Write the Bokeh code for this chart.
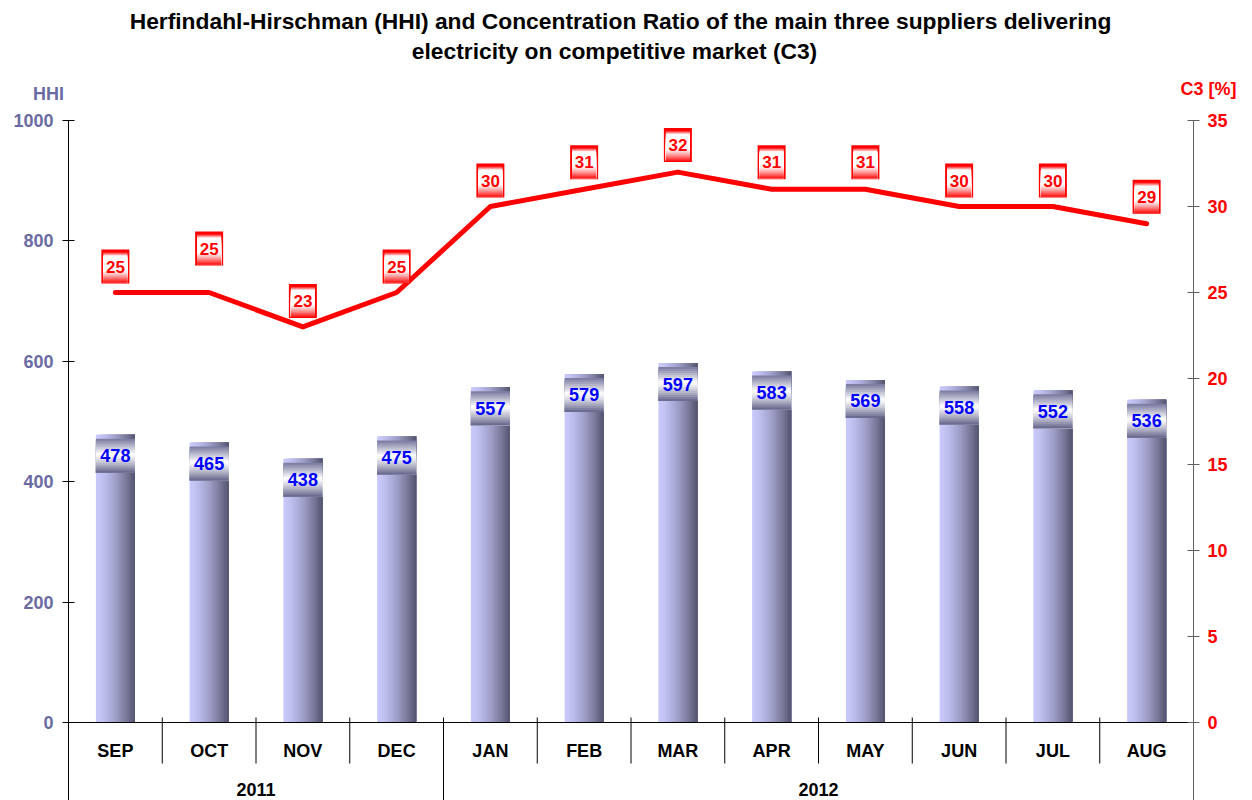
import numpy as np
from bokeh.plotting import figure
from bokeh.models import Range1d, LinearAxis, FixedTicker
from bokeh.core.properties import value
from bokeh.embed import file_html
from bokeh.resources import INLINE

# ---------------- data ----------------
months = ["SEP", "OCT", "NOV", "DEC", "JAN", "FEB", "MAR", "APR", "MAY", "JUN", "JUL", "AUG"]
year_names = ["2011", "2012"]
months_per_year = [4, 8]
hhi = [478, 465, 438, 475, 557, 579, 597, 583, 569, 558, 552, 536]
c3 = [25, 25, 23, 25, 30, 31, 32, 31, 31, 30, 30, 29]
hhi_ticks = [0, 200, 400, 600, 800, 1000]
c3_ticks = [0, 5, 10, 15, 20, 25, 30, 35]
title_lines = ["Herfindahl-Hirschman (HHI) and Concentration Ratio of the main three suppliers delivering",
               "electricity on competitive market (C3)"]
hhi_axis_title = "HHI"
c3_axis_title = "C3 [%]"

# label lift above the C3 line points (pixels) - style
c3_label_lift = [26, 44, 26, 26, 26, 27, 27, 27, 27, 26, 26, 27]

# ---------------- layout ----------------
FONT = "Liberation Sans"
W, H = 1252, 800
PL, PR = 68, 1193  # screen x of the plot area edges
ZERO_PX = 722      # screen y of value 0
TOP_PX = 120       # screen y of max value
HHI_MAX, C3_MAX = 1000, 35
kL = (ZERO_PX - TOP_PX) / HHI_MAX
kR = (ZERO_PX - TOP_PX) / C3_MAX
BELOW_PX = H - ZERO_PX
n = len(months)
kX = (PR - PL) / n
x = np.arange(n, dtype=float)


def sx(px):
    return (px - PL) / kX - 0.5


def syL(px):
    return (ZERO_PX - px) / kL


p = figure(width=W, height=H, output_backend="svg", toolbar_location=None,
           x_range=Range1d(sx(0), sx(W)),
           y_range=Range1d(syL(H), syL(0)),
           x_axis_location=None,
           min_border_left=0, min_border_right=0, min_border_top=0, min_border_bottom=0)
p.extra_y_ranges = {"c3": Range1d(-BELOW_PX / kR, ZERO_PX / kR)}
p.outline_line_color = None
p.xgrid.visible = False
p.ygrid.visible = False
p.background_fill_color = "white"
p.border_fill_color = "white"

hhi_col = "#6B6BA3"
ax = p.yaxis[0]
ax.fixed_location = -0.5
ax.ticker = FixedTicker(ticks=hhi_ticks)
ax.axis_line_color = None
ax.major_tick_line_color = "black"
ax.major_tick_in = 6
ax.major_tick_out = 6
ax.minor_tick_line_color = None
ax.major_label_standoff = 9
ax.major_label_text_font = FONT
ax.major_label_text_font_style = "bold"
ax.major_label_text_font_size = "18px"
ax.major_label_text_color = hhi_col

rax = LinearAxis(y_range_name="c3", ticker=FixedTicker(ticks=c3_ticks))
rax.fixed_location = n - 0.5
rax.axis_line_color = None
rax.major_tick_line_color = "#606060"
rax.major_tick_in = 6
rax.major_tick_out = 6
rax.minor_tick_line_color = None
rax.major_label_standoff = 8
rax.major_label_text_font = FONT
rax.major_label_text_font_style = "bold"
rax.major_label_text_font_size = "18px"
rax.major_label_text_color = "#FF0000"
p.add_layout(rax, "right")

# axis lines (from top value down to the bottom of the chart)
p.segment(x0=[-0.5], y0=[HHI_MAX], x1=[-0.5], y1=[syL(H)], line_color="black", line_width=1)
p.segment(x0=[n - 0.5], y0=[HHI_MAX], x1=[n - 0.5], y1=[syL(H)], line_color="#606060", line_width=1)

# ---------------- bars with horizontal gradient ----------------
bw = 39 / kX
NS = 26
light = np.array([200, 200, 250])
dark = np.array([84, 84, 110])
white = np.array([255, 255, 255])
hv = np.array(hhi, dtype=float)


def hexc(c):
    return "#%02x%02x%02x" % tuple(int(round(v)) for v in c)


for k in range(NS):
    t = (k + 0.5) / NS
    f = t ** 1.5
    l = x - bw / 2 + k * bw / NS
    p.quad(left=l, right=x + bw / 2, top=hv, bottom=np.zeros(n),
           fill_color=hexc(light * (1 - f) + dark * f), line_color=None)

# bar label boxes: vertical gradient dark-white-dark
top_c = np.array([118, 118, 158])
bot_c = np.array([98, 98, 138])
BOX_TOP, BOX_H, STEP = 4, 34, 2
NB = BOX_H // STEP
for j in range(NB):
    s = (j + 0.5) / NB
    if s < 0.45:
        f = s / 0.45
        c = top_c * (1 - f) + white * f
    else:
        f = ((s - 0.45) / 0.55) ** 1.2
        c = white * (1 - f) + bot_c * f
    t_px = BOX_TOP + j * STEP
    p.quad(left=x - bw / 2, right=x + bw / 2, top=hv - t_px / kL,
           bottom=hv - (BOX_TOP + BOX_H) / kL, fill_color=hexc(c), line_color=None)

p.text(x=x, y=hv - (BOX_TOP + BOX_H / 2) / kL, text=[str(v) for v in hhi],
       text_font=value(FONT), text_font_style="bold", text_font_size="18px",
       text_color="#0000FF", text_align="center", text_baseline="middle")

# ---------------- C3 line ----------------
cv = np.array(c3, dtype=float)
p.line(x, cv, y_range_name="c3", line_color="#FF0000", line_width=5,
       line_cap="round", line_join="round")

lift = np.array(c3_label_lift, dtype=float)
LB_W, LB_H = 28, 34
cy = cv + lift / kR
red = np.array([255, 0, 0])
p.rect(x=x, y=cy, width=LB_W, height=LB_H, width_units="screen", height_units="screen",
       fill_color="#FF0000", line_color=None, y_range_name="c3")
inner_top, inner_bot = 3, LB_H - 1
for r in range(inner_top, inner_bot):
    if r < inner_top + 3:
        f = 1 - (r - inner_top + 1) / 4
    elif r > LB_H - 14:
        f = ((r - (LB_H - 14)) / 13) ** 1.3
    else:
        f = 0.0
    h = inner_bot - r
    yc = cy + (LB_H / 2 - r - h / 2) / kR
    p.rect(x=x, y=yc, width=LB_W - 4, height=h, width_units="screen", height_units="screen",
           fill_color=hexc(white * (1 - f) + red * f), line_color=None, y_range_name="c3")

p.text(x=x, y=cy, text=[str(v) for v in c3], y_range_name="c3",
       text_font=value(FONT), text_font_style="bold", text_font_size="17px",
       text_color="#FF0000", text_align="center", text_baseline="middle")

# ---------------- category axis drawn in the plot ----------------
p.segment(x0=[-0.5], y0=[0], x1=[n - 0.5], y1=[0], line_color="black", line_width=1)
bounds = np.arange(1, n) - 0.5
year_bounds = np.cumsum(months_per_year)[:-1] - 0.5
month_b = [b for b in bounds if b not in year_bounds]
p.segment(x0=month_b, y0=[5 / kL] * len(month_b), x1=month_b,
          y1=[-41 / kL] * len(month_b), line_color="black", line_width=1)
p.segment(x0=year_bounds, y0=[5 / kL] * len(year_bounds), x1=year_bounds,
          y1=[syL(H)] * len(year_bounds), line_color="black", line_width=1)

p.text(x=x, y=[syL(750)] * n, text=months, text_font=value(FONT), text_font_style="bold",
       text_font_size="18px", text_color="black", text_align="center", text_baseline="middle")
starts = np.concatenate([[0], np.cumsum(months_per_year)[:-1]])
ycent = starts + (np.array(months_per_year) - 1) / 2
p.text(x=ycent, y=[syL(789)] * len(year_names), text=year_names, text_font=value(FONT),
       text_font_style="bold", text_font_size="18px", text_color="black",
       text_align="center", text_baseline="middle")

# ---------------- titles ----------------
p.text(x=[sx(620), sx(614)], y=[syL(20), syL(50)], text=title_lines,
       text_font=value(FONT), text_font_style="bold", text_font_size="22.8px",
       text_color="black", text_align="center", text_baseline="middle")

p.text(x=[sx(48)], y=[syL(93)], text=[hhi_axis_title],
       text_font=value(FONT), text_font_style="bold", text_font_size="18px",
       text_color=hhi_col, text_align="center", text_baseline="middle")
p.text(x=[sx(1208)], y=[syL(88)], text=[c3_axis_title],
       text_font=value(FONT), text_font_style="bold", text_font_size="18px",
       text_color="#FF0000", text_align="center", text_baseline="middle")

open("out.html", "w").write(file_html(p, INLINE))
